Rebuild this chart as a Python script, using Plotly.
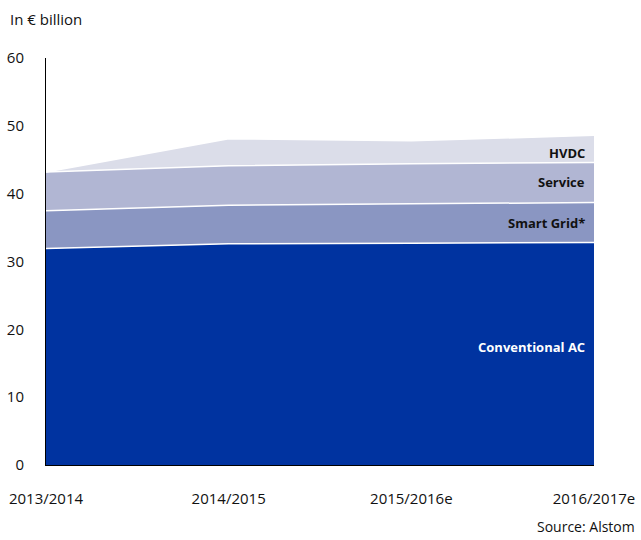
import plotly.graph_objects as go

years = ["2013/2014", "2014/2015", "2015/2016e", "2016/2017e"]
conventional_ac = [31.9, 32.6, 32.7, 32.8]
smart_grid = [5.6, 5.7, 5.8, 5.9]
service = [5.7, 5.8, 5.9, 5.9]
hvdc = [0.0, 4.0, 3.4, 4.0]

series_names = ["Conventional AC", "Smart Grid*", "Service", "HVDC"]
series_values = [conventional_ac, smart_grid, service, hvdc]
colors = ["#0033A0", "#8A96C2", "#B1B6D3", "#DBDDE9"]

FONT = "Open Sans"
xs = list(range(len(years)))

fig = go.Figure()
for name, vals, col in zip(series_names, series_values, colors):
    fig.add_trace(go.Scatter(
        x=xs, y=vals, name=name, stackgroup="one", mode="lines",
        line=dict(color="white", width=1.5), fillcolor=col,
        hoverinfo="skip", showlegend=False,
    ))

label_y = [17.4, 35.7, 41.7, 46.0]
label_colors = ["white", "#111111", "#111111", "#111111"]
annotations = []
for name, ly, lc in zip(series_names, label_y, label_colors):
    annotations.append(dict(
        x=2.96, y=ly, xref="x", yref="y", text="<b>" + name + "</b>",
        showarrow=False, xanchor="right", yanchor="middle",
        font=dict(family=FONT, size=13, color=lc),
    ))

annotations.append(dict(
    x=-0.0693, y=1.0958, xref="paper", yref="paper", text="In € billion",
    showarrow=False, xanchor="left", yanchor="middle",
    font=dict(family=FONT, size=15, color="#111111"),
))
annotations.append(dict(
    x=1.0785, y=-0.150, xref="paper", yref="paper", text="Source: Alstom",
    showarrow=False, xanchor="right", yanchor="middle",
    font=dict(family=FONT, size=14, color="#111111"),
))

fig.update_layout(
    width=641, height=540,
    margin=dict(l=46, r=47, t=58, b=75, autoexpand=False),
    paper_bgcolor="white", plot_bgcolor="white",
    font=dict(family=FONT, size=15, color="#111111"),
    annotations=annotations,
    xaxis=dict(
        range=[0, 3], tickvals=xs, ticktext=years, showgrid=False,
        zeroline=False, showline=True, linecolor="black", linewidth=1,
        ticks="", ticklabelstandoff=20, automargin=False,
        tickfont=dict(family=FONT, size=15, color="#111111"),
    ),
    yaxis=dict(
        range=[0, 60], tickvals=[0, 10, 20, 30, 40, 50, 60], showgrid=False,
        zeroline=False, showline=True, linecolor="black", linewidth=1,
        ticks="", ticklabelstandoff=18, automargin=False,
        tickfont=dict(family=FONT, size=15, color="#111111"),
    ),
)

fig.write_html(
    "out.html",
    config={"displayModeBar": False},
    post_script="document.body.style.margin='0';document.body.style.overflow='hidden';",
)
